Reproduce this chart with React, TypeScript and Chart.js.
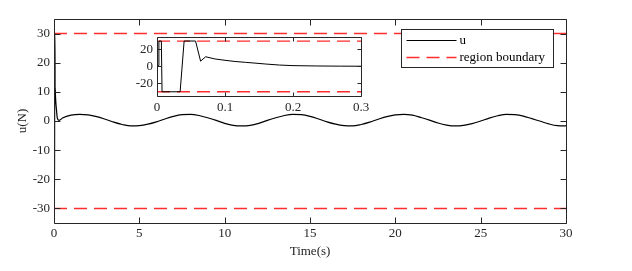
import React, { useEffect, useRef } from "react";
import { Chart, registerables } from "chart.js";

Chart.register(...registerables);

const FONT = "'Liberation Serif', 'Times New Roman', serif";
const TEXT = "#262626";

// initial transient (seconds, N)
const transientT = [0, 0.0025, 0.0028, 0.0064, 0.0074, 0.034, 0.0399, 0.0567, 0.0641, 0.0715, 0.0852, 0.1, 0.1148, 0.13, 0.144, 0.16, 0.18, 0.2, 0.235, 0.27, 0.3];
const transientU = [1, 1, 30, 30, -30, -30, 30, 30, 6.2, 11.4, 8.8, 7.2, 5.8, 4.8, 3.9, 2.8, 1.6, 0.9, 0.5, 0.3, 0.2];

// steady oscillation
const steadyT = [0.5, 1, 1.5, 2, 2.5, 3, 3.5, 4, 4.5, 5, 5.5, 6, 6.5, 7, 7.5, 8, 8.5, 9, 9.5, 10, 10.5, 11, 11.5, 12, 12.5, 13, 13.5, 14, 14.5, 15, 15.5, 16, 16.5, 17, 17.5, 18, 18.5, 19, 19.5, 20, 20.5, 21, 21.5, 22, 22.5, 23, 23.5, 24, 24.5, 25, 25.5, 26, 26.5, 27, 27.5, 28, 28.5, 29, 29.5, 30];
const steadyU = [1.0, 2.0, 2.3, 2.1, 1.5, 0.6, -0.4, -1.2, -1.7, -1.6,
  -1.1, -0.3, 0.7, 1.6, 2.2, 2.3, 1.9, 1.1, 0.2, -0.8,
  -1.5, -1.7, -1.5, -0.8, 0.2, 1.1, 1.9, 2.3, 2.2, 1.6,
  0.7, -0.3, -1.1, -1.6, -1.7, -1.2, -0.4, 0.6, 1.5, 2.1,
  2.3, 2.0, 1.2, 0.3, -0.7, -1.4, -1.7, -1.5, -0.9, 0.0,
  1.0, 1.8, 2.3, 2.2, 1.7, 0.8, -0.1, -1.0, -1.6, -1.7];

const boundary = [30, -30];

const mainXRange = [0, 30];
const mainYRange = [-35, 35];
const mainXTicks = [0, 5, 10, 15, 20, 25, 30];
const mainYTicks = [-30, -20, -10, 0, 10, 20, 30];

const insetXRange = [0, 0.3];
const insetYRange = [-35, 35];
const insetXTicks = [0, 0.1, 0.2, 0.3];
const insetYTicks = [-20, 0, 20];

const seriesLabel = "u";
const boundaryLabel = "region boundary";

function framePlugin(id: string, tickLen: number, fillWhite: boolean) {
  return {
    id,
    beforeDatasetsDraw(chart: any) {
      if (!fillWhite) return;
      const { ctx, chartArea: a } = chart;
      ctx.save();
      ctx.fillStyle = "#fff";
      ctx.fillRect(a.left, a.top, a.right - a.left, a.bottom - a.top);
      ctx.restore();
    },
    afterDatasetsDraw(chart: any) {
      const { ctx, chartArea: a, scales } = chart;
      const l = Math.round(a.left) + 0.5;
      const r = Math.round(a.right) + 0.5;
      const t = Math.round(a.top) + 0.5;
      const b = Math.round(a.bottom) + 0.5;
      ctx.save();
      ctx.strokeStyle = TEXT;
      ctx.lineWidth = 1;
      ctx.beginPath();
      ctx.rect(l, t, r - l, b - t);
      for (const tk of scales.x.ticks) {
        const px = Math.round(scales.x.getPixelForValue(tk.value)) + 0.5;
        ctx.moveTo(px, b);
        ctx.lineTo(px, b - tickLen);
        ctx.moveTo(px, t);
        ctx.lineTo(px, t + tickLen);
      }
      for (const tk of scales.y.ticks) {
        const py = Math.round(scales.y.getPixelForValue(tk.value)) + 0.5;
        ctx.moveTo(l, py);
        ctx.lineTo(l + tickLen, py);
        ctx.moveTo(r, py);
        ctx.lineTo(r - tickLen, py);
      }
      ctx.stroke();
      ctx.restore();
    },
  };
}

const legendPlugin = {
  id: "boxLegend",
  afterDraw(chart: any) {
    const { ctx, chartArea: a } = chart;
    const ds = chart.data.datasets;
    const w = 152;
    const h = 38;
    const x0 = Math.round(a.right) - 13 - w + 0.5;
    const y0 = Math.round(a.top) + 10 + 0.5;
    ctx.save();
    ctx.fillStyle = "#fff";
    ctx.fillRect(x0, y0, w, h);
    ctx.strokeStyle = TEXT;
    ctx.lineWidth = 1;
    ctx.strokeRect(x0, y0, w, h);
    const rows = [ds[0], ds[1]];
    const rowY = [y0 + 11, y0 + 28];
    rows.forEach((d: any, i: number) => {
      ctx.save();
      ctx.strokeStyle = d.borderColor;
      ctx.lineWidth = d.borderWidth;
      ctx.setLineDash(d.borderDash || []);
      ctx.beginPath();
      ctx.moveTo(x0 + 5, rowY[i]);
      ctx.lineTo(x0 + 55, rowY[i]);
      ctx.stroke();
      ctx.restore();
      ctx.fillStyle = "#000";
      ctx.font = `13px ${FONT}`;
      ctx.textBaseline = "middle";
      ctx.textAlign = "left";
      ctx.fillText(d.label, x0 + 58, rowY[i]);
    });
    ctx.restore();
  },
};

const tickFont = { family: FONT, size: 13 };

export default function App() {
  const mainRef = useRef<HTMLCanvasElement>(null);
  const insetRef = useRef<HTMLCanvasElement>(null);

  useEffect(() => {
    document.body.style.margin = "0";
    const mainT = [...transientT, ...steadyT];
    const mainU = [...transientU, ...steadyU];

    const main = new Chart(mainRef.current as HTMLCanvasElement, {
      type: "line",
      data: {
        datasets: [
          {
            label: seriesLabel,
            data: mainT.map((t, i) => ({ x: t, y: mainU[i] })),
            borderColor: "#000",
            borderWidth: 1.2,
            pointRadius: 0,
            cubicInterpolationMode: "monotone",
            fill: false,
          },
          {
            label: boundaryLabel,
            data: mainXRange.map((x) => ({ x, y: boundary[0] })),
            borderColor: "rgb(255,45,45)",
            borderWidth: 1.5,
            borderDash: [13, 7],
            pointRadius: 0,
            fill: false,
          },
          {
            label: boundaryLabel + " ",
            data: mainXRange.map((x) => ({ x, y: boundary[1] })),
            borderColor: "rgb(255,45,45)",
            borderWidth: 1.5,
            borderDash: [13, 7],
            pointRadius: 0,
            fill: false,
          },
        ],
      },
      options: {
        responsive: false,
        animation: false,
        devicePixelRatio: 1,
        layout: { padding: { left: 0, right: 66, top: 19, bottom: 0 } },
        plugins: { legend: { display: false }, tooltip: { enabled: false } },
        scales: {
          x: {
            type: "linear",
            min: mainXRange[0],
            max: mainXRange[1],
            afterBuildTicks: (s: any) => {
              s.ticks = mainXTicks.map((v) => ({ value: v }));
            },
            afterFit: (s: any) => {
              s.height = 48;
            },
            grid: { display: false, drawTicks: false },
            border: { display: false },
            ticks: { padding: 3, color: TEXT, font: tickFont, maxRotation: 0, autoSkip: false, callback: (v: any) => String(v) },
            title: { display: true, text: "Time(s)", color: TEXT, font: tickFont, padding: { top: 0, bottom: 12 } },
          },
          y: {
            type: "linear",
            min: mainYRange[0],
            max: mainYRange[1],
            afterBuildTicks: (s: any) => {
              s.ticks = mainYTicks.map((v) => ({ value: v }));
            },
            afterFit: (s: any) => {
              s.width = 54;
            },
            grid: { display: false, drawTicks: false },
            border: { display: false },
            ticks: { padding: 4, color: TEXT, font: tickFont, autoSkip: false, callback: (v: any) => String(v) },
            title: { display: true, text: "u(N)", color: TEXT, font: tickFont, padding: { top: 15, bottom: 0 } },
          },
        },
      },
      plugins: [framePlugin("mainFrame", 6, false), legendPlugin],
    } as any);

    const inset = new Chart(insetRef.current as HTMLCanvasElement, {
      type: "line",
      data: {
        datasets: [
          {
            label: seriesLabel,
            data: transientT.map((t, i) => ({ x: t, y: transientU[i] })),
            borderColor: "#000",
            borderWidth: 1,
            pointRadius: 0,
            tension: 0,
            fill: false,
          },
          {
            label: boundaryLabel,
            data: insetXRange.map((x) => ({ x, y: boundary[0] })),
            borderColor: "rgb(255,45,45)",
            borderWidth: 1.3,
            borderDash: [13, 7],
            pointRadius: 0,
            fill: false,
          },
          {
            label: boundaryLabel + " ",
            data: insetXRange.map((x) => ({ x, y: boundary[1] })),
            borderColor: "rgb(255,45,45)",
            borderWidth: 1.3,
            borderDash: [13, 7],
            pointRadius: 0,
            fill: false,
          },
        ],
      },
      options: {
        responsive: false,
        animation: false,
        devicePixelRatio: 1,
        layout: { padding: { left: 0, right: 19, top: 10, bottom: 0 } },
        plugins: { legend: { display: false }, tooltip: { enabled: false } },
        scales: {
          x: {
            type: "linear",
            min: insetXRange[0],
            max: insetXRange[1],
            afterBuildTicks: (s: any) => {
              s.ticks = insetXTicks.map((v) => ({ value: v }));
            },
            afterFit: (s: any) => {
              s.height = 29;
            },
            grid: { display: false, drawTicks: false },
            border: { display: false },
            ticks: { padding: 4, color: TEXT, font: tickFont, maxRotation: 0, autoSkip: false, callback: (v: any) => String(v) },
          },
          y: {
            type: "linear",
            min: insetYRange[0],
            max: insetYRange[1],
            afterBuildTicks: (s: any) => {
              s.ticks = insetYTicks.map((v) => ({ value: v }));
            },
            afterFit: (s: any) => {
              s.width = 47;
            },
            grid: { display: false, drawTicks: false },
            border: { display: false },
            ticks: { padding: 4, color: TEXT, font: tickFont, autoSkip: false, callback: (v: any) => String(v) },
          },
        },
      },
      plugins: [framePlugin("insetFrame", 4, true)],
    } as any);

    return () => {
      main.destroy();
      inset.destroy();
    };
  }, []);

  return (
    <div style={{ position: "relative", width: 632, height: 271, background: "#fff" }}>
      <canvas ref={mainRef} width={632} height={271} style={{ position: "absolute", left: 0, top: 0 }} />
      <canvas ref={insetRef} width={270} height={100} style={{ position: "absolute", left: 110, top: 25 }} />
    </div>
  );
}
